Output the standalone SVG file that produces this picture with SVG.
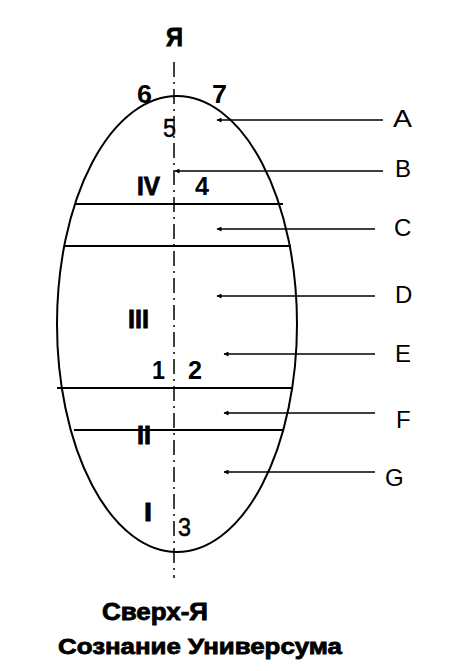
<svg xmlns="http://www.w3.org/2000/svg" width="451" height="671" viewBox="0 0 451 671">
<style>
.ln{stroke:#000;stroke-width:2;fill:none}
.ar{stroke:#000;stroke-width:1.5;fill:none;marker-end:url(#ah)}
.lt{font-family:"Liberation Sans",Arial,sans-serif;font-size:24px;fill:#000}
.num{font-family:"Liberation Sans",Arial,sans-serif;font-size:26px;fill:#000;stroke:#000;stroke-width:0.5}
.nb{font-family:"Liberation Sans",Arial,sans-serif;font-size:26px;font-weight:bold;fill:#000}
.rom{font-family:"Liberation Sans",Arial,sans-serif;font-size:25px;font-weight:bold;fill:#000;stroke:#000;stroke-width:0.8}
.ttl{font-family:"Liberation Sans",Arial,sans-serif;font-weight:bold;fill:#000;stroke:#000;stroke-width:0.8}
</style>
<defs>
<marker id="ah" viewBox="0 0 10 10" refX="9" refY="5" markerWidth="6" markerHeight="5" orient="auto" markerUnits="userSpaceOnUse">
<path d="M0,0 L10,5 L0,10 z" fill="#000"/>
</marker>
</defs>
<rect width="451" height="671" fill="#fff"/>
<g id="axis">
<line x1="174" y1="62" x2="174" y2="578" stroke="#000" stroke-width="1.5" stroke-dasharray="15 5 2 5"/>
</g>
<g id="egg">
<ellipse class="ln" cx="177" cy="324" rx="120" ry="228"/>
<line class="ln" x1="75" y1="204" x2="283" y2="204"/>
<line class="ln" x1="65" y1="246" x2="291" y2="246"/>
<line class="ln" x1="57" y1="388" x2="292" y2="388"/>
<line class="ln" x1="74" y1="430" x2="283" y2="430"/>
</g>
<g id="connectors">
<line class="ar" x1="383" y1="120" x2="217" y2="120"/>
<line class="ar" x1="383" y1="171" x2="175" y2="171"/>
<line class="ar" x1="375" y1="229" x2="217" y2="229"/>
<line class="ar" x1="375" y1="296" x2="217" y2="296"/>
<line class="ar" x1="375" y1="354" x2="224" y2="354"/>
<line class="ar" x1="375" y1="413" x2="224" y2="413"/>
<line class="ar" x1="375" y1="472" x2="224" y2="472"/>
</g>
<g id="labels-right">
<text class="lt" x="393" y="127" textLength="19" lengthAdjust="spacingAndGlyphs">A</text>
<text class="lt" x="395" y="177">B</text>
<text class="lt" x="394" y="236">C</text>
<text class="lt" x="395" y="303">D</text>
<text class="lt" x="395" y="362">E</text>
<text class="lt" x="396" y="428">F</text>
<text class="lt" x="385" y="486">G</text>
</g>
<g id="numbers">
<text class="nb" x="137" y="103" textLength="15" lengthAdjust="spacingAndGlyphs">6</text>
<text class="nb" x="212" y="103" textLength="15" lengthAdjust="spacingAndGlyphs">7</text>
<text class="num" x="163" y="137" textLength="13" lengthAdjust="spacingAndGlyphs">5</text>
<text class="nb" x="195" y="195" font-size="23" textLength="14" lengthAdjust="spacingAndGlyphs">4</text>
<text class="nb" x="152" y="379" textLength="13" lengthAdjust="spacingAndGlyphs">1</text>
<text class="nb" x="188" y="379" textLength="14" lengthAdjust="spacingAndGlyphs">2</text>
<text class="num" x="178" y="536" textLength="13" lengthAdjust="spacingAndGlyphs">3</text>
</g>
<g id="roman">
<text class="rom" x="137" y="195" textLength="23" lengthAdjust="spacingAndGlyphs">IV</text>
<text class="rom" x="128" y="328" textLength="21" lengthAdjust="spacingAndGlyphs">III</text>
<text class="rom" x="137" y="444" textLength="14" lengthAdjust="spacingAndGlyphs">II</text>
<text class="rom" x="144" y="521" textLength="8" lengthAdjust="spacingAndGlyphs">I</text>
</g>
<g id="titles">
<text class="ttl" x="166" y="46" font-size="25" textLength="17" lengthAdjust="spacingAndGlyphs">Я</text>
<text class="ttl" x="102" y="620" font-size="23" textLength="106" lengthAdjust="spacingAndGlyphs">Сверх-Я</text>
<text class="ttl" x="58" y="654" font-size="22" textLength="284" lengthAdjust="spacingAndGlyphs">Сознание Универсума</text>
</g>
</svg>
